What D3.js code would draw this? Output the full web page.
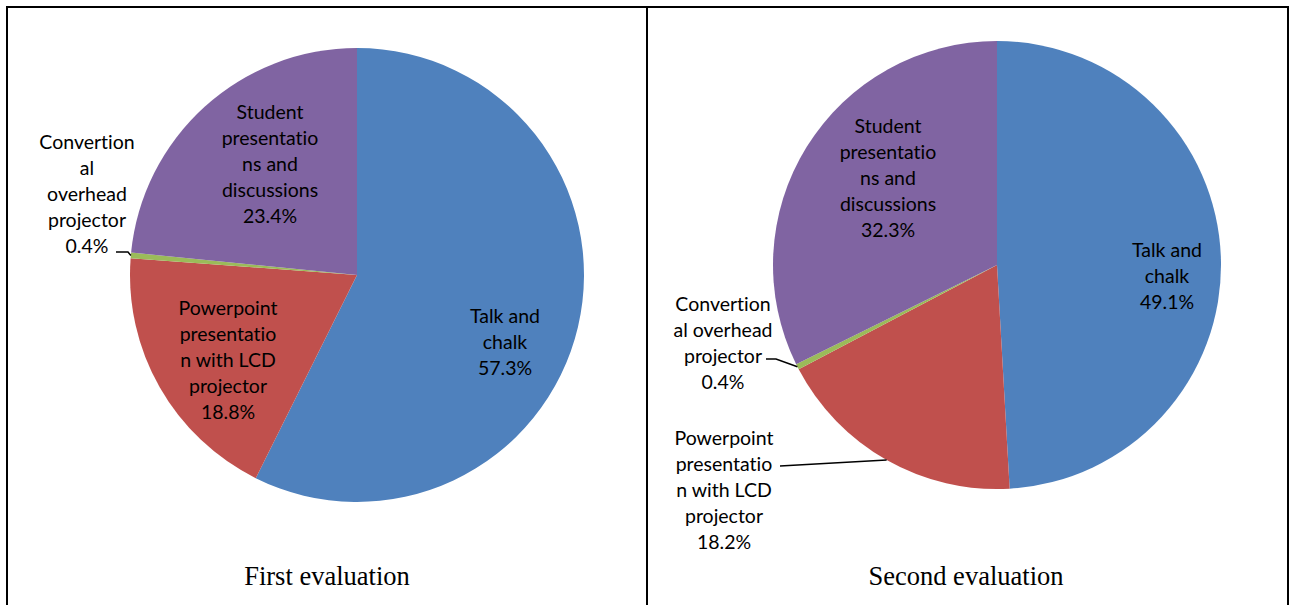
<!DOCTYPE html>
<html>
<head>
<meta charset="utf-8">
<script src="https://cdn.jsdelivr.net/npm/d3@7"></script>
<style>
  html, body { margin: 0; padding: 0; background: #fff; }
  svg { display: block; }
  text { font-variant-ligatures: none; font-feature-settings: "liga" 0, "clig" 0; }
</style>
</head>
<body>
<svg id="chart" width="1290" height="605"></svg>
<script>
// Teaching methods, share of responses (%)
const categories = [
  "Talk and chalk",
  "Powerpoint presentation with LCD projector",
  "Convertional overhead projector",
  "Student presentations and discussions"
];
const firstValues  = [57.3, 18.8, 0.4, 23.4];
const secondValues = [49.1, 18.2, 0.4, 32.3];
const panelTitles  = ["First evaluation", "Second evaluation"];

// Wrapped label lines (as the category names break inside the chart)
const labelLines = [
  ["Talk and", "chalk"],
  ["Powerpoint", "presentatio", "n with LCD", "projector"],
  ["Convertion", "al", "overhead", "projector"],
  ["Student", "presentatio", "ns and", "discussions"]
];
const labelLinesSecond = [
  ["Talk and", "chalk"],
  ["Powerpoint", "presentatio", "n with LCD", "projector"],
  ["Convertion", "al overhead", "projector"],
  ["Student", "presentatio", "ns and", "discussions"]
];

const colors = ["#4F81BD", "#C0504D", "#9BBB59", "#8064A2"];

const svg = d3.select("#chart");

// Table frame around the two panels
const frame = svg.append("g").attr("stroke", "#000").attr("stroke-width", 2).attr("fill", "none");
frame.append("line").attr("x1", 6).attr("x2", 1289).attr("y1", 7).attr("y2", 7);
frame.append("line").attr("x1", 7).attr("x2", 7).attr("y1", 6).attr("y2", 605);
frame.append("line").attr("x1", 647).attr("x2", 647).attr("y1", 6).attr("y2", 605);
frame.append("line").attr("x1", 1288).attr("x2", 1288).attr("y1", 6).attr("y2", 605);

// Panel layout: pie centre/radius, label anchors (block centre x, first baseline y),
// and leader lines for labels placed outside the pie.
const panels = [
  {
    values: firstValues, lines: labelLines, title: panelTitles[0],
    cx: 357, cy: 275, r: 227, titleX: 327,
    labels: [
      { x: 505, y: 323 },
      { x: 228, y: 315 },
      { x: 87,  y: 149, leader: [[116, 252], [128, 252]] },
      { x: 270, y: 119 }
    ]
  },
  {
    values: secondValues, lines: labelLinesSecond, title: panelTitles[1],
    cx: 997, cy: 265, r: 224, titleX: 966,
    labels: [
      { x: 1167, y: 257 },
      { x: 724,  y: 445, leader: [[780, 466]] },
      { x: 723,  y: 311, leader: [[766, 359], [776, 359]] },
      { x: 888,  y: 133 }
    ]
  }
];

const lineH = 26;
const pie = d3.pie().sort(null).value(d => d);

panels.forEach(p => {
  const g = svg.append("g").attr("transform", `translate(${p.cx},${p.cy})`);
  const arc = d3.arc().innerRadius(0).outerRadius(p.r);
  const arcs = pie(p.values);

  g.selectAll("path.slice")
    .data(arcs)
    .join("path")
    .attr("class", "slice")
    .attr("d", arc)
    .attr("fill", (d, i) => colors[i]);

  // leader lines from outside labels to the slice edge
  arcs.forEach((a, i) => {
    const lab = p.labels[i];
    if (!lab.leader) return;
    const mid = (a.startAngle + a.endAngle) / 2;
    const edge = [p.r * Math.sin(mid), -p.r * Math.cos(mid)];
    const pts = lab.leader.map(q => [q[0] - p.cx, q[1] - p.cy]).concat([edge]);
    g.append("path")
      .attr("d", d3.line()(pts))
      .attr("fill", "none")
      .attr("stroke", "#000")
      .attr("stroke-width", 1.5);
  });

  // slice labels: wrapped name plus percentage
  arcs.forEach((a, i) => {
    const lab = p.labels[i];
    const text = svg.append("text")
      .attr("x", lab.x)
      .attr("y", lab.y)
      .attr("text-anchor", "middle")
      .attr("font-family", "Lato, 'Noto Sans', sans-serif")
      .attr("font-size", 19.5)
      .attr("fill", "#000");
    const rows = p.lines[i].concat([d3.format(".1f")(a.data) + "%"]);
    text.selectAll("tspan")
      .data(rows)
      .join("tspan")
      .attr("x", lab.x)
      .attr("dy", (d, k) => k === 0 ? 0 : lineH)
      .text(d => d);
  });

  svg.append("text")
    .attr("x", p.titleX)
    .attr("y", 585)
    .attr("text-anchor", "middle")
    .attr("font-family", "'Liberation Serif', 'Times New Roman', serif")
    .attr("font-size", 26.5)
    .attr("fill", "#000")
    .text(p.title);
});
</script>
</body>
</html>
